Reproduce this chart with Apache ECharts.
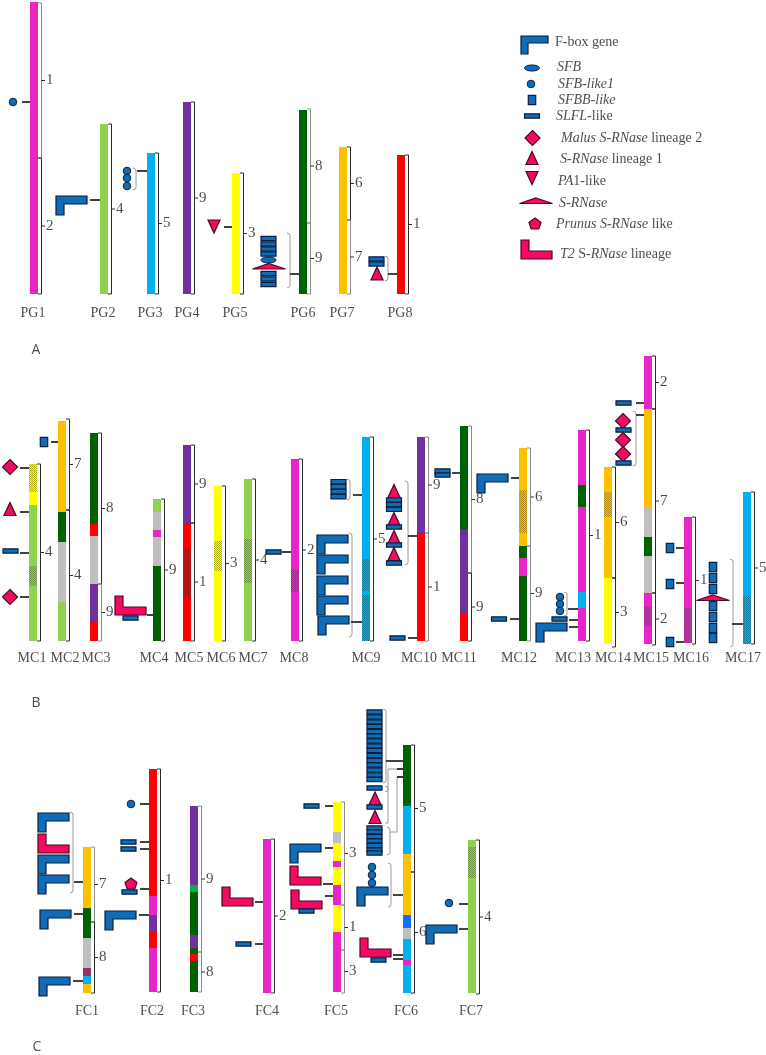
<!DOCTYPE html>
<html><head><meta charset="utf-8">
<style>html,body{margin:0;padding:0;background:#fff}#c{width:766px;height:1055px}</style>
<script src="https://cdn.jsdelivr.net/npm/echarts@6/dist/echarts.min.js"></script>
</head><body><div id="c"></div>
<script>
// name, left edge of bar, name centre, name baseline row
const chromosomes = [
['PG1',30,33,313],['PG2',100,103,313],['PG3',147,150,313],['PG4',183,187,313],['PG5',232,235,313],['PG6',299,303,313],['PG7',339,342,313],['PG8',397,400,313],
['MC1',29,32,658],['MC2',58,65,658],['MC3',90,96,658],['MC4',153,154,658],['MC5',183,189,658],['MC6',214,221,658],['MC7',244,253,658],['MC8',291,294,658],['MC9',362,366,658],['MC10',417,419,658],['MC11',460,459,658],['MC12',519,519,658],['MC13',578,573,658],['MC14',604,613,658],['MC15',644,651,658],['MC16',684,691,658],['MC17',743,743,658],
['FC1',83,87,1011],['FC2',149,152,1011],['FC3',190,193,1011],['FC4',263,267,1011],['FC5',333,336,1011],['FC6',403,406,1011],['FC7',468,471,1011]
];
// chromosome, from, to, colour, hatched
const segments = [
['PG1',2,294,'pink'],['PG2',124,294,'lime'],['PG3',153,294,'sky'],['PG4',102,294,'purple'],['PG5',173,294,'yellow'],['PG6',110,294,'forest'],['PG7',147,294,'orange'],['PG8',155,294,'red'],
['MC1',464,492,'yellow',1],['MC1',492,505,'yellow'],['MC1',505,566,'lime'],['MC1',566,586,'lime',1],['MC1',586,641,'lime'],
['MC2',421,512,'orange'],['MC2',512,542,'forest'],['MC2',542,602,'gray'],['MC2',602,641,'lime'],
['MC3',433,524,'forest'],['MC3',524,536,'red'],['MC3',536,584,'gray'],['MC3',584,621,'purple'],['MC3',621,641,'red'],
['MC4',499,512,'lime'],['MC4',512,530,'gray'],['MC4',530,537,'pink'],['MC4',537,566,'gray'],['MC4',566,641,'forest'],
['MC5',445,523,'purple'],['MC5',523,549,'red'],['MC5',549,597,'red',1],['MC5',597,641,'red'],
['MC6',486,541,'yellow'],['MC6',541,571,'yellow',1],['MC6',571,641,'yellow'],
['MC7',479,539,'lime'],['MC7',539,583,'lime',1],['MC7',583,641,'lime'],
['MC8',459,569,'pink'],['MC8',569,592,'pink',1],['MC8',592,641,'pink'],
['MC9',437,559,'sky'],['MC9',559,591,'sky',1],['MC9',591,595,'sky'],['MC9',595,641,'sky',1],
['MC10',437,533,'purple'],['MC10',533,641,'red'],
['MC11',426,530,'forest'],['MC11',530,614,'purple'],['MC11',614,641,'red'],
['MC12',448,490,'orange'],['MC12',490,533,'orange',1],['MC12',533,546,'orange'],['MC12',546,558,'forest'],['MC12',558,576,'pink'],['MC12',576,641,'forest'],
['MC13',430,485,'pink'],['MC13',485,507,'forest'],['MC13',507,592,'pink'],['MC13',592,608,'sky'],['MC13',608,641,'pink'],
['MC14',467,492,'orange'],['MC14',492,517,'orange',1],['MC14',517,578,'orange'],['MC14',578,644,'yellow'],
['MC15',356,409,'pink'],['MC15',409,508,'orange'],['MC15',508,537,'gray'],['MC15',537,556,'forest'],['MC15',556,593,'gray'],['MC15',593,607,'pink'],['MC15',607,626,'pink',1],['MC15',626,644,'pink'],
['MC16',517,608,'pink'],['MC16',608,643,'pink',1],
['MC17',492,596,'sky'],['MC17',596,644,'sky',1],
['FC1',847,908,'orange'],['FC1',908,938,'forest'],['FC1',938,968,'gray'],['FC1',968,976,'maroon'],['FC1',976,984,'sky'],['FC1',984,993,'orange'],
['FC2',769,896,'red'],['FC2',896,915,'pink'],['FC2',915,932,'purple'],['FC2',932,948,'red'],['FC2',948,992,'pink'],
['FC3',806,885,'purple'],['FC3',885,892,'green'],['FC3',892,935,'forest'],['FC3',935,948,'purple'],['FC3',948,954,'forest'],['FC3',954,961,'red'],['FC3',961,992,'forest'],
['FC4',839,993,'pink'],
['FC5',802,832,'yellow'],['FC5',832,843,'gray'],['FC5',843,861,'yellow'],['FC5',861,867,'pink'],['FC5',867,885,'yellow'],['FC5',885,905,'pink'],['FC5',905,932,'yellow'],['FC5',932,992,'pink'],
['FC6',745,806,'forest'],['FC6',806,854,'sky'],['FC6',854,915,'orange'],['FC6',915,928,'royal'],['FC6',928,939,'gray'],['FC6',939,960,'sky'],['FC6',960,965,'pink'],['FC6',965,993,'sky'],
['FC7',840,847,'lime'],['FC7',847,878,'lime',1],['FC7',878,993,'lime']
];
// chromosome, from, to, linkage group, muted
const brackets = [
['PG1',3,158,'1',1],['PG1',158,294,'2'],['PG2',124,294,'4'],['PG3',153,294,'5'],['PG4',102,294,'9'],['PG5',173,294,'3'],['PG6',109,223,'8',1],['PG6',223,294,'9',1],['PG7',147,220,'6'],['PG7',220,294,'7',1],['PG8',155,294,'1'],
['MC1',464,641,'4'],['MC2',419,510,'7'],['MC2',510,641,'4'],['MC3',433,584,'8'],['MC3',584,641,'9',1],['MC4',499,641,'9'],['MC5',445,523,'9'],['MC5',523,641,'1'],['MC6',486,641,'3'],['MC7',479,641,'4'],['MC8',459,641,'2'],['MC9',437,641,'5'],['MC10',437,533,'9',1],['MC10',533,641,'1',1],['MC11',426,573,'8',1],['MC11',573,641,'9'],['MC12',448,546,'6',1],['MC12',546,641,'9',1],['MC13',430,641,'1'],['MC14',467,578,'6'],['MC14',578,647,'3'],['MC15',356,409,'2'],['MC15',409,593,'7'],['MC15',593,645,'2'],['MC16',517,644,'1'],['MC17',492,644,'5'],
['FC1',847,922,'7',1],['FC1',922,993,'8'],['FC2',769,992,'1'],['FC3',806,952,'9',1],['FC3',952,992,'8',1],['FC4',839,993,'2'],['FC5',802,905,'3',1],['FC5',905,950,'1',1],['FC5',950,993,'3',1],['FC6',745,872,'5'],['FC6',872,993,'6'],['FC7',840,994,'4']
];
// from x, to x, row
const connectors = [
[22,30,102],[90,100,200],[137,147,171],[224,232,227],[290,299,274],[388,397,274],
[20,29,468],[20,29,512],[20,29,553],[20,29,597],[51,58,442],[147,153,615],[282,291,552],[353,362,495],[351,362,622],[408,417,536],[408,417,638],[452,460,473],[511,519,478],[510,519,619],[568,578,609],[569,578,620],[569,578,627],[636,644,403],[636,644,415],[676,684,548],[676,684,583],[676,684,642],[732,743,624],
[74,83,882],[74,83,914],[73,83,981],[140,149,804],[140,149,842],[140,149,849],[140,149,889],[139,149,915],[255,263,902],[255,263,944],[325,333,806],[325,333,848],[323,333,884],[325,333,896],[386,403,761],[397,403,769],[397,403,777],[393,403,895],[393,403,955],[393,403,959],[459,468,904],[459,468,929]
];
// x, from, to of each curly grouping
const braces = [
[133,168,190],[287,233,288],[385,256,281],
[347,479,500],[349,533,637],[405,481,565],[564,592,616],[633,411,466],[730,559,647],
[70,812,893],[383,709,783],[385,786,792],[387,827,855],[388,863,907]
];
const elbows = [
[[403,769],[388,769],[388,823],[385,823]],
[[390,832],[397,832],[397,777],[403,777]]
];
// kind, x, y (centre; L shapes: top-left corner)
const markers = [
['circle',13,102],['fbox',56,196],['circle',127,171],['circle',127,178],['circle',127,186],['down',214,226.5],
['slfl',268.5,238.5],['slfl',268.5,244],['slfl',268.5,249],['slfl',268.5,254],['sfb',268.5,260],['srnase',269,266.5],['slfl',268.5,273.5],['slfl',268.5,279],['slfl',268.5,284.5],
['slfl',376.5,259],['slfl',376.5,264],['up',377,273.5],
['diamond',10,467],['up',10,509],['slfl',10.5,551],['diamond',10,597],['sfbb',44,442],['t2',115,596],['slfl',130.5,618],
['slfl',273.5,552],['slfl',338.5,481.7],['slfl',338.5,486.7],['slfl',338.5,491.7],['slfl',338.5,496.7],
['fbox',317,535],['fbox',317,555],['fbox',317,576],['fbox',317,596],['fbox',318,616],
['up',394,491],['slfl',394,500],['slfl',394,504.7],['slfl',394,509.3],['up',394,519],['slfl',394,527],['up',394,537],['slfl',394,545],['up',394,554],['slfl',394,563],['slfl',397.5,638],
['slfl',442.5,471],['slfl',442.5,475],['fbox',477,474],['slfl',499,619],
['circle',560,597],['circle',560,604],['circle',560,611],['slfl',559.5,619],['fbox',536,623],
['slfl',623.5,403],['diamond',623,421],['slfl',623.5,430],['diamond',623,440],['diamond',623,454],['slfl',623.5,463],
['sfbb',670,548],['sfbb',670,584],['sfbb',670,642],
['sfbb',713,567],['sfbb',713,578],['sfbb',713,589],['srnase',713,598],['sfbb',713,606],['sfbb',713,617],['sfbb',713,628],['sfbb',713,638],
['fbox',38,813],['t2',38,834],['fbox',38,855],['fbox',38,875],['fbox',40,910],['fbox',39,977],
['circle',131,804],['slfl',128.5,842],['slfl',128.5,849],['pentagon',131,884],['slfl',129.5,892],['fbox',105,911],
['t2',222,887],['slfl',243.5,944],['slfl',311.5,806],['fbox',290,844],['t2',290,866],['t2',291,890],['slfl',306.5,911],
['slfl',374.5,712],['slfl',374.5,717],['slfl',374.5,722],['slfl',374.5,726.5],['slfl',374.5,731.5],['slfl',374.5,736],['slfl',374.5,741],['slfl',374.5,746],['slfl',374.5,750.5],['slfl',374.5,755.5],['slfl',374.5,760.5],['slfl',374.5,765],['slfl',374.5,770],['slfl',374.5,775],['slfl',374.5,779.5],
['slfl',374.5,788],['up',375,798.5],['slfl',374.5,807],['up',375,817],
['slfl',374.5,828],['slfl',374.5,832],['slfl',374.5,836.5],['slfl',374.5,841],['slfl',374.5,845.5],['slfl',374.5,850],['slfl',374.5,853],
['circle',372,867],['circle',372,875],['circle',372,883],['fbox',357,887],['t2',360,938],['slfl',378.5,960],
['circle',449,903],['fbox',426,925],
// legend
['fboxKey',521,36],['sfb',532,68],['circle',531,84],['sfbb',532,100],['slfl',532,116],['diamond',532.5,138],['up',532,158],['down',532,178],['srnase',536,201],['pentagon',535,224],['t2',521,240]
];
const legendTexts = [
['F-box gene',555,42],['{i|SFB}',557,67],['{i|SFB-like1}',558,84],['{i|SFBB-like}',558,100],['{i|SLFL}-like',556,116],['{i|Malus S-RNase} lineage 2',561,138],['{i|S-RNase} lineage 1',560,159],['{i|PA}1-like',558,181],['{i|S-RNase}',559,203],['{i|Prunus S-RNase} like',556,224],['{i|T2} S-{i|RNase} lineage',560,254]
];
const panelLetters = [['A',36,350],['B',36,703],['C',37,1047]];

const palette = {pink:'#e925c8',lime:'#92d050',sky:'#00b0f0',purple:'#7030a0',yellow:'#ffff00',forest:'#006100',orange:'#ffc000',red:'#ff0000',gray:'#bfbfbf',maroon:'#953464',green:'#00b050',royal:'#0f6fff'};
const BAR_W = 8, BLUE='#0f6cb6', BLUE_S='#0a1f3c', ROSE='#f40a62', ROSE_S='#4a0822';
const SERIF='"Liberation Serif","DejaVu Serif",serif';
const INK='#1c1c1c';

const barLeft = Object.fromEntries(chromosomes.map(c=>[c[0],c[1]]));

const hatch = document.createElement('canvas'); hatch.width=2; hatch.height=2;
(function(){const g=hatch.getContext('2d');g.fillStyle='rgba(40,40,40,0.36)';g.fillRect(0,0,1,1);g.fillRect(1,1,1,1);})();

const shapes = {
  fbox:{c:'b',pts:[[0,0],[31,0],[31,8],[8,8],[8,19],[0,19]]},
  fboxKey:{c:'b',pts:[[0,0],[27,0],[27,7],[7,7],[7,18],[0,18]]},
  t2:{c:'r',pts:[[0,0],[8,0],[8,11],[31,11],[31,19],[0,19]]},
  up:{c:'r',pts:[[0,-6.5],[6,6.5],[-6,6.5]]},
  down:{c:'r',pts:[[-6,-6.5],[6,-6.5],[0,6.5]]},
  diamond:{c:'r',pts:[[0,-7.5],[7.5,0],[0,7.5],[-7.5,0]]},
  srnase:{c:'r',pts:[[0,-3],[16.5,2.5],[-16.5,2.5]]},
  pentagon:{c:'r',pts:[[0,-6],[6,-1.5],[3.8,5],[-3.8,5],[-6,-1.5]]},
  slfl:{c:'b',pts:[[-7.5,-2.2],[7.5,-2.2],[7.5,2.2],[-7.5,2.2]]},
  sfbb:{c:'b',pts:[[-3.7,-4.7],[3.7,-4.7],[3.7,4.7],[-3.7,4.7]]}
};

const chart = echarts.init(document.getElementById('c'),null,{renderer:'canvas'});

function textSeries(data,font,extra){
  return {type:'scatter',symbolSize:0,silent:true,clip:false,animation:false,z:5,
    data:data.map(d=>({value:[d[1],d[2]],text:d[0]})),
    label:Object.assign({show:true,position:extra&&extra.position||'inside',formatter:p=>p.data.text,color:INK,
      fontFamily:font.family,fontSize:font.size,distance:0,
      rich:{i:{fontStyle:'italic',fontFamily:font.family,fontSize:font.size,color:INK}}},extra&&extra.label||{})
  };
}

const nameLabels = chromosomes.map(c=>[c[0],c[2],c[3]]);
const tickLabels = brackets.map(b=>[b[3],barLeft[b[0]]+BAR_W+8,(b[1]+b[2])/2]);

chart.setOption({
  animation:false,backgroundColor:'#fff',
  grid:{left:0,right:0,top:0,bottom:0,containLabel:false},
  xAxis:{type:'value',min:0,max:766,show:false},
  yAxis:{type:'value',min:0,max:1055,inverse:true,show:false},
  tooltip:{show:false},
  series:[
    {type:'custom',silent:true,clip:false,z:2,coordinateSystem:'cartesian2d',
     data:segments.map(s=>[barLeft[s[0]],s[1],s[2]]),
     encode:{x:0,y:[1,2]},
     renderItem:function(p,api){
       const s=segments[p.dataIndex],l=barLeft[s[0]];
       const a=api.coord([l,s[1]]),b=api.coord([l+BAR_W,s[2]]);
       const shape={x:a[0],y:a[1],width:b[0]-a[0],height:b[1]-a[1]};
       const kids=[{type:'rect',shape,style:{fill:palette[s[3]]}}];
       if(s[4])kids.push({type:'rect',shape,style:{fill:{image:hatch,repeat:'repeat'}}});
       return {type:'group',children:kids};
     }},
    {type:'custom',silent:true,clip:false,z:1,
     data:brackets.map(b=>[barLeft[b[0]],b[1],b[2]]),encode:{x:0,y:[1,2]},
     renderItem:function(p,api){
       const b=brackets[p.dataIndex],r=barLeft[b[0]]+BAR_W;
       const m=(b[1]+b[2])/2,col=b[4]?'#8a8a8a':'#2a2a2a';
       const pts=[[r,b[1]],[r+3.5,b[1]],[r+3.5,b[2]],[r,b[2]]].map(q=>api.coord(q));
       const t=[[r+3.5,m],[r+7,m]].map(q=>api.coord(q));
       return {type:'group',children:[
         {type:'polyline',shape:{points:pts},style:{stroke:col,lineWidth:1,fill:null}},
         {type:'line',shape:{x1:t[0][0],y1:t[0][1],x2:t[1][0],y2:t[1][1]},style:{stroke:'#2a2a2a',lineWidth:1}}
       ]};
     }},
    {type:'custom',silent:true,clip:false,z:1,
     data:braces.map(b=>[b[0],b[1],b[2]]),encode:{x:0,y:[1,2]},
     renderItem:function(p,api){
       const b=braces[p.dataIndex];
       const pts=[[b[0],b[1]],[b[0]+2.5,b[1]+1],[b[0]+3,b[1]+3],[b[0]+3,b[2]-3],[b[0]+2.5,b[2]-1],[b[0],b[2]]].map(q=>api.coord(q));
       return {type:'polyline',shape:{points:pts},style:{stroke:'#9a9a9a',lineWidth:1,fill:null}};
     }},
    {type:'custom',silent:true,clip:false,z:1,
     data:elbows.map(e=>e[0]),encode:{x:0,y:1},
     renderItem:function(p,api){
       return {type:'polyline',shape:{points:elbows[p.dataIndex].map(q=>api.coord(q))},style:{stroke:'#9a9a9a',lineWidth:1,fill:null}};
     }},
    {type:'custom',silent:true,clip:false,z:3,
     data:connectors.map(c=>[c[0],c[1],c[2]]),encode:{x:[0,1],y:2},
     renderItem:function(p,api){
       const c=connectors[p.dataIndex],a=api.coord([c[0],c[2]]),b=api.coord([c[1],c[2]]);
       return {type:'line',shape:{x1:a[0],y1:a[1],x2:b[0],y2:b[1]},style:{stroke:'#111',lineWidth:1.6}};
     }},
    {type:'custom',silent:true,clip:false,z:4,
     data:markers.map(m=>[m[1],m[2]]),encode:{x:0,y:1},
     renderItem:function(p,api){
       const m=markers[p.dataIndex],k=m[0],o=api.coord([m[1],m[2]]);
       if(k==='circle')return {type:'circle',shape:{cx:o[0],cy:o[1],r:3.8},style:{fill:BLUE,stroke:BLUE_S,lineWidth:1}};
       if(k==='sfb')return {type:'ellipse',shape:{cx:o[0],cy:o[1],rx:7.5,ry:3},style:{fill:BLUE,stroke:BLUE_S,lineWidth:1}};
       const s=shapes[k];
       return {type:'polygon',shape:{points:s.pts.map(q=>[o[0]+q[0],o[1]+q[1]])},
         style:{fill:s.c==='b'?BLUE:ROSE,stroke:s.c==='b'?BLUE_S:ROSE_S,lineWidth:1.2,lineJoin:'miter',miterLimit:4}};
     }},
    textSeries(nameLabels,{family:SERIF,size:14},{label:{align:'center',verticalAlign:'middle'}}),
    textSeries(tickLabels,{family:SERIF,size:15},{position:'right'}),
    textSeries(legendTexts,{family:SERIF,size:14},{position:'right'}),
    textSeries(panelLetters,{family:'"Open Sans",sans-serif',size:14},{label:{align:'center',verticalAlign:'middle'}})
  ]
});
</script></body></html>
